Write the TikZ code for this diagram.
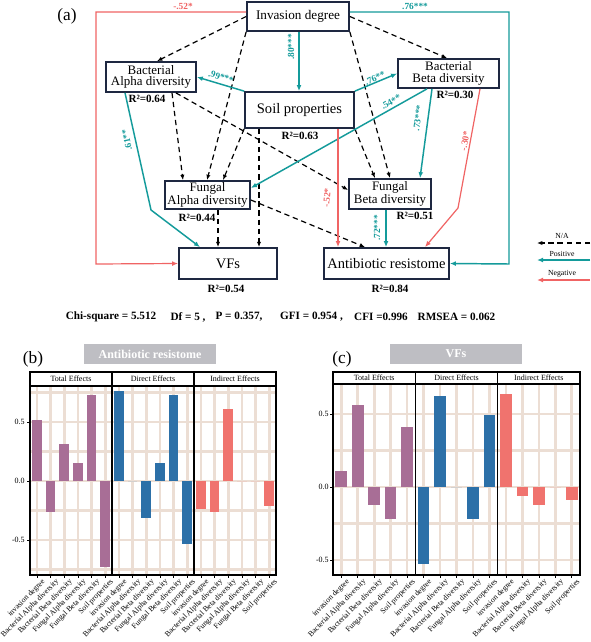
\documentclass[tikz,border=0pt]{standalone}
\usepackage{fontspec}
\setmainfont{Liberation Serif}
\usetikzlibrary{arrows.meta,calc}
\definecolor{boxc}{RGB}{30,40,65}
\definecolor{tealc}{RGB}{20,155,155}
\definecolor{redc}{RGB}{240,100,100}
\definecolor{totc}{RGB}{168,110,150}
\definecolor{dirc}{RGB}{44,112,168}
\definecolor{indc}{RGB}{240,115,110}
\definecolor{gridc}{RGB}{236,222,212}
\definecolor{titc}{RGB}{190,190,195}
\begin{document}
\begin{tikzpicture}[x=0.75pt,y=-0.75pt,
  box/.style={draw=boxc, line width=1.3pt, fill=white, inner sep=0pt, align=center},
  bigf/.style={font=\fontsize{10.9}{12}\selectfont},
  invf/.style={font=\fontsize{9.9}{11}\selectfont},
  twof/.style={font=\fontsize{9.7}{8.8}\selectfont},
  rsq/.style={font=\bfseries\fontsize{8.3}{10}\selectfont, inner sep=0pt},
  naarrow/.style={draw=black, line width=0.9pt, dash pattern=on 4pt off 2.8pt, -{Latex[length=4pt,width=3.2pt]}},
  posarrow/.style={draw=tealc, line width=1.1pt, -{Latex[length=4.5pt,width=3.6pt]}},
  negarrow/.style={draw=redc, line width=0.9pt, -{Latex[length=4.5pt,width=3.6pt]}},
  plab/.style={text=tealc, font=\bfseries\fontsize{7}{8}\selectfont, inner sep=0pt},
  nlab/.style={text=redc, font=\bfseries\fontsize{7}{8}\selectfont, inner sep=0pt},
  legf/.style={font=\fontsize{5.8}{7}\selectfont, inner sep=0pt},
  fitf/.style={font=\bfseries\fontsize{8.4}{10}\selectfont, inner sep=0pt},
  panlab/.style={font=\fontsize{13}{14}\selectfont, inner sep=0pt},
  titlebox/.style={fill=titc, text=white, font=\bfseries\fontsize{9}{10}\selectfont, inner sep=0pt},
  stripbox/.style={draw=black, line width=0.8pt, fill=white, inner sep=0pt, font=\fontsize{6}{7}\selectfont},
  gridl/.style={draw=gridc, line width=2pt},
  panelframe/.style={draw=black, line width=0.9pt},
  xlab/.style={rotate=45, anchor=north east, inner sep=0pt, font=\fontsize{5.8}{7}\selectfont},
  ylab/.style={anchor=east, inner sep=0pt, font=\fontsize{6}{7}\selectfont}
]
\useasboundingbox (0,0) rectangle (590,642);
\fill[white] (0,0) rectangle (590,642);

% ---------------- (a) ----------------
\node[panlab] (la) at (67,16) {(a)};

\node[box, invf, minimum width=76.5pt, minimum height=21.75pt] (inv) at (298,16.5) {Invasion degree};
\node[box, twof, minimum width=67.5pt, minimum height=22.5pt] (ba) at (151,77) {Bacterial\\Alpha diversity};
\node[box, bigf, minimum width=81.75pt, minimum height=27pt] (soil) at (299.5,110) {Soil properties};
\node[box, twof, minimum width=75.75pt, minimum height=21.75pt] (bb) at (448.5,73.5) {Bacterial\\Beta diversity};
\node[box, twof, minimum width=63.75pt, minimum height=21pt] (fa) at (207.5,195) {Fungal\\Alpha diversity};
\node[box, twof, minimum width=61.5pt, minimum height=22.5pt] (fb) at (390,194) {Fungal\\Beta diversity};
\node[box, bigf, minimum width=73.5pt, minimum height=23.25pt] (vfs) at (228,263.5) {VFs};
\node[box, bigf, minimum width=93.75pt, minimum height=23.25pt] (ar) at (386.5,263.5) {Antibiotic resistome};

\node[rsq] (r1) at (147,99) {R²=0.64};
\node[rsq] (r2) at (300,136) {R²=0.63};
\node[rsq] (r3) at (455,95) {R²=0.30};
\node[rsq] (r4) at (197,218) {R²=0.44};
\node[rsq] (r5) at (415,216) {R²=0.51};
\node[rsq] (r6) at (226,289) {R²=0.54};
\node[rsq] (r7) at (390,289) {R²=0.84};

% dashed (N/A)
\draw[naarrow] (inv.west) -- ($(ba.north)+(6,0)$);
\draw[naarrow] (inv.east) -- ($(bb.north)+(-1.5,0)$);
\draw[naarrow] (inv.south west) -- ($(fa.north)+(-0.5,0)$);
\draw[naarrow] (inv.south east) -- (fb.north);
\draw[naarrow] ($(ba.south)+(21,0)$) -- ($(fa.north)+(-24.5,0)$);
\draw[naarrow] ($(ba.south east)+(-21,0)$) -- ($(fb.west)+(0,-4)$);
\draw[naarrow] (soil.south west) -- ($(fa.north)+(15.5,0)$);
\draw[naarrow] (soil.south east) -- ($(fb.north)+(-15,0)$);
\draw[naarrow] ($(soil.south)+(-40.5,0)$) -- ($(vfs.north)+(31,0)$);
\draw[naarrow] ($(fa.south)+(10.5,0)$) -- ($(vfs.north)+(-10,0)$);
\draw[naarrow] ($(fa.east)+(0,5)$) -- ($(ar.north)+(-21.5,0)$);

% positive
\draw[posarrow] ($(inv.south)+(1,0)$) -- ($(soil.north)+(-0.5,0)$);
\node[plab, rotate=90] (l80) at (291,47) {.80***};
\draw[posarrow] (soil.north west) -- (ba.east);
\node[plab, rotate=-17] (l99) at (221,77) {.99***};
\draw[posarrow] (soil.north east) -- (bb.west);
\node[plab, rotate=24] (l76a) at (375,78) {.76**};
\draw[posarrow] ($(bb.south)+(-21.5,0)$) -- ($(fa.east)+(0,-7)$);
\node[plab, rotate=30] (l54) at (391,102) {.54**};
\draw[posarrow] ($(bb.south)+(-16.5,0)$) -- ($(fb.north)+(30,0)$);
\node[plab, rotate=82] (l73) at (418,118) {.73***};
\draw[posarrow] ($(fb.south)+(-4,0)$) -- ($(ar.north)+(-0.5,0)$);
\node[plab, rotate=90] (l72) at (377,228) {.72***};
\coordinate (k61) at (151,210);
\draw[posarrow] ($(ba.south)+(-26,0)$) -- (k61) -- ($(vfs.north)+(-28,0)$);
\node[plab, rotate=102] (l61) at (127,140) {.61**};
\coordinate (k76a) at (509,12);
\coordinate (k76b) at (509,264);
\draw[posarrow] ($(inv.east)+(0,-4.5)$) -- (k76a) -- (k76b) -- (ar.east);
\node[plab] (l76b) at (415,6) {.76***};

% negative
\coordinate (k52a) at (96,12);
\coordinate (k52b) at (96,264);
\draw[negarrow] ($(inv.west)+(0,-4.5)$) -- (k52a) -- (k52b) -- (vfs.west);
\node[nlab] (l52a) at (183,6) {-.52*};
\draw[negarrow] ($(soil.south)+(38.5,0)$) -- ($(ar.north)+(-48.5,0)$);
\node[nlab, rotate=85] (l52b) at (327,198) {-.52*};
\coordinate (k30) at (458,208);
\draw[negarrow] ($(bb.south)+(31.5,0)$) -- (k30) -- ($(ar.north)+(38.5,0)$);
\node[nlab, rotate=80] (l30) at (465,141) {-.30*};

% legend
\coordinate (g1a) at (590,243); \coordinate (g1b) at (537,243);
\coordinate (g2a) at (590,260); \coordinate (g2b) at (537,260);
\coordinate (g3a) at (590,280); \coordinate (g3b) at (537,280);
\draw[naarrow] (g1a) -- (g1b);
\draw[posarrow] (g2a) -- (g2b);
\draw[negarrow] (g3a) -- (g3b);
\node[legf] (gl1) at (562,236) {N/A};
\node[legf] (gl2) at (562,253.5) {Positive};
\node[legf] (gl3) at (562,273.5) {Negative};

% fit indices
\node[fitf] (f1) at (111,317) {Chi-square = 5.512};
\node[fitf] (f2) at (188,317) {Df = 5 ,};
\node[fitf] (f3) at (239,317) {P = 0.357,};
\node[fitf] (f4) at (311.5,317) {GFI = 0.954 ,};
\node[fitf] (f5) at (381,317) {CFI =0.996};
\node[fitf] (f6) at (456.5,317) {RMSEA = 0.062};

% ---------------- (b) ----------------
\node[panlab] (lb) at (33,359) {(b)};
\node[titlebox, minimum width=99pt, minimum height=15pt] (tb) at (150,354) {Antibiotic resistome};
\foreach \p in {30,112,194}{
  \foreach \i in {1,...,6}{
    \draw[gridl] ({\p+(\i-0.5)*13.667},386) -- ({\p+(\i-0.5)*13.667},575);
  }
}
\foreach \v in {-0.75,-0.5,-0.25,0,0.25,0.5,0.75}{
  \draw[gridl] (30,{481-118*\v}) -- (276,{481-118*\v});
}
\foreach \v [count=\i] in {0.52,-0.26,0.31,0.15,0.73,-0.73}{
  \fill[totc] ({30+(\i-0.5)*13.667-4.8},481) rectangle ({30+(\i-0.5)*13.667+4.8},{481-118*\v});
}
\foreach \v [count=\i] in {0.76,0,-0.31,0.15,0.73,-0.53}{
  \fill[dirc] ({112+(\i-0.5)*13.667-4.8},481) rectangle ({112+(\i-0.5)*13.667+4.8},{481-118*\v});
}
\foreach \v [count=\i] in {-0.24,-0.26,0.61,0,0,-0.21}{
  \fill[indc] ({194+(\i-0.5)*13.667-4.8},481) rectangle ({194+(\i-0.5)*13.667+4.8},{481-118*\v});
}
\foreach \p in {30,112,194}{
  \draw[panelframe] (\p,386) rectangle ({\p+82},575);
  \foreach \i in {1,...,6}{
    \draw[line width=0.5pt] ({\p+(\i-0.5)*13.667},575) -- ({\p+(\i-0.5)*13.667},577.5);
  }
}
\node[stripbox, minimum width=61.5pt, minimum height=10.5pt] (sb1) at (71,379) {Total Effects};
\node[stripbox, minimum width=61.5pt, minimum height=10.5pt] (sb2) at (153,379) {Direct Effects};
\node[stripbox, minimum width=61.5pt, minimum height=10.5pt] (sb3) at (235,379) {Indirect Effects};
\node[ylab] (yb1) at (25,422) {0.5};
\node[ylab] (yb2) at (25,481) {0.0};
\node[ylab] (yb3) at (25,540) {-0.5};
\foreach \y in {422,481,540}{ \draw[line width=0.5pt] (27,\y) -- (30,\y); }
\foreach \p in {30,112,194}{
  \foreach \t [count=\i] in {invasion degree, Bacterial Alpha diversity, Bacterial Beta diversity, Fungal Alpha diversity, Fungal Beta diversity, Soil properties}{
    \node[xlab] (bx-\p-\i) at ({\p+(\i-0.5)*13.667+4.5},578) {\t};
  }
}

% ---------------- (c) ----------------
\node[panlab] (lc) at (342,359) {(c)};
\node[titlebox, minimum width=99pt, minimum height=15pt] (tc) at (456,354) {VFs};
\foreach \p in {333,415.33,497.67}{
  \foreach \i in {1,...,5}{
    \draw[gridl] ({\p+(\i-0.5)*16.467},384) -- ({\p+(\i-0.5)*16.467},575);
  }
}
\foreach \v in {-0.5,-0.25,0,0.25,0.5}{
  \draw[gridl] (333,{487-146*\v}) -- (580,{487-146*\v});
}
\foreach \v [count=\i] in {0.11,0.56,-0.12,-0.22,0.41}{
  \fill[totc] ({333+(\i-0.5)*16.467-5.8},487) rectangle ({333+(\i-0.5)*16.467+5.8},{487-146*\v});
}
\foreach \v [count=\i] in {-0.53,0.62,0,-0.22,0.49}{
  \fill[dirc] ({415.33+(\i-0.5)*16.467-5.8},487) rectangle ({415.33+(\i-0.5)*16.467+5.8},{487-146*\v});
}
\foreach \v [count=\i] in {0.64,-0.06,-0.12,0,-0.09}{
  \fill[indc] ({497.67+(\i-0.5)*16.467-5.8},487) rectangle ({497.67+(\i-0.5)*16.467+5.8},{487-146*\v});
}
\foreach \p in {333,415.33,497.67}{
  \draw[panelframe] (\p,384) rectangle ({\p+82.33},575);
  \foreach \i in {1,...,5}{
    \draw[line width=0.5pt] ({\p+(\i-0.5)*16.467},575) -- ({\p+(\i-0.5)*16.467},577.5);
  }
}
\node[stripbox, minimum width=61.75pt, minimum height=9pt] (sc1) at (374.17,378) {Total Effects};
\node[stripbox, minimum width=61.75pt, minimum height=9pt] (sc2) at (456.5,378) {Direct Effects};
\node[stripbox, minimum width=61.75pt, minimum height=9pt] (sc3) at (538.83,378) {Indirect Effects};
\node[ylab] (yc1) at (329,414) {0.5};
\node[ylab] (yc2) at (329,487) {0.0};
\node[ylab] (yc3) at (329,560) {-0.5};
\foreach \y in {414,487,560}{ \draw[line width=0.5pt] (330,\y) -- (333,\y); }
\foreach \p [count=\k] in {333,415.33,497.67}{
  \foreach \t [count=\i] in {invasion degree, Bacterial Alpha diversity, Bacterial Beta diversity, Fungal Alpha diversity, Soil properties}{
    \node[xlab] (cx-\k-\i) at ({\p+(\i-0.5)*16.467+4.5},578) {\t};
  }
}
\end{tikzpicture}
\end{document}
